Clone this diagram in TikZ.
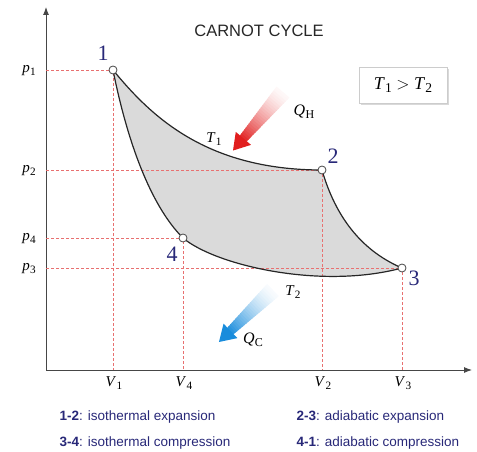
\documentclass[tikz,border=0pt]{standalone}
\usepackage{fontspec}
\setmainfont{Liberation Serif}
\setsansfont{Liberation Sans}
\usetikzlibrary{arrows.meta,shadows}
\definecolor{navy}{RGB}{40,40,120}
\definecolor{dashred}{RGB}{232,112,112}
\definecolor{hot}{RGB}{225,30,30}
\definecolor{cold}{RGB}{25,140,220}
\definecolor{areagray}{RGB}{218,218,218}
\definecolor{axisgray}{RGB}{70,70,70}
\newcommand\lbl[2]{\textit{#1}\kern0.3pt\raisebox{-0.35ex}{\scalebox{0.75}{#2}}}
\newcommand\heatarrow[4]{%
 \begin{scope}[shift={#1},rotate=#2]
  \pgfmathsetmacro\shaftlen{#3-16}
  \foreach \i in {0,...,23}{
    \pgfmathsetmacro\ua{\i*\shaftlen/24}
    \pgfmathsetmacro\ub{(\i+1.4)*\shaftlen/24}
    \pgfmathsetmacro\wa{8.5-4*\i/24}
    \pgfmathsetmacro\wb{8.5-4*(\i+1.4)/24}
    \pgfmathsetmacro\pc{3+90*(\i/23)^1.4}
    \fill[#4!\pc!white] (\ua,-\wa) -- (\ub,-\wb) -- (\ub,\wb) -- (\ua,\wa) -- cycle;
  }
  \fill[#4] (\shaftlen,-10) -- (#3,0) -- (\shaftlen,10) -- cycle;
 \end{scope}}
\begin{document}
\begin{tikzpicture}[x=1pt,y=-1pt,
  pt/.style={circle,draw=axisgray,fill=white,line width=0.8pt,inner sep=0pt,minimum size=8pt},
  guide/.style={dashred,dashed,dash pattern=on 3pt off 2pt,line width=0.8pt},
  curve/.style={black!85,line width=1.2pt},
  axis/.style={axisgray,line width=0.9pt,-{Latex[length=8pt,width=6pt]}},
  numlbl/.style={navy,font=\fontsize{22}{24}\selectfont},
  axlbl/.style={font=\fontsize{15}{18}\selectfont},
  qlbl/.style={font=\fontsize{16}{18}\selectfont},
  legend/.style={navy,anchor=west,font=\sffamily\fontsize{13.5}{16}\selectfont}]
\useasboundingbox (0,0) rectangle (477,452);
% cycle corners
\coordinate (c1) at (113,70);
\coordinate (c2) at (322,170);
\coordinate (c3) at (402,268);
\coordinate (c4) at (183,238);
% shaded area
\fill[areagray] (c1) .. controls (150,115) and (205,170) .. (c2)
  .. controls (335,215) and (360,250) .. (c3)
  .. controls (320,290) and (215,265) .. (c4)
  .. controls (150,205) and (127,140) .. (c1) -- cycle;
% axes
\coordinate (origin) at (46,370);
\coordinate (ytop) at (46,7);
\coordinate (xend) at (472,370);
\draw[axis] (origin) -- (ytop);
\draw[axis] (origin) -- (xend);
% guides
\coordinate (y1) at (46,70);  \coordinate (x1) at (113,370);
\coordinate (y2) at (46,170); \coordinate (x2) at (322,370);
\coordinate (y3) at (46,268); \coordinate (x3) at (402,370);
\coordinate (y4) at (46,238); \coordinate (x4) at (183,370);
\draw[guide] (y1) -- (c1) -- (x1);
\draw[guide] (y2) -- (c2) -- (x2);
\draw[guide] (y3) -- (c3) -- (x3);
\draw[guide] (y4) -- (c4) -- (x4);
% curves
\draw[curve] (c1) .. controls (150,115) and (205,170) .. (c2);
\draw[curve] (c2) .. controls (335,215) and (360,250) .. (c3);
\draw[curve] (c3) .. controls (320,290) and (215,265) .. (c4);
\draw[curve] (c4) .. controls (150,205) and (127,140) .. (c1);
% points
\node[pt] (n1) at (c1) {};
\node[pt] (n2) at (c2) {};
\node[pt] (n3) at (c3) {};
\node[pt] (n4) at (c4) {};
\node[numlbl] (l1) at (103,53) {1};
\node[numlbl] (l2) at (333,156) {2};
\node[numlbl] (l3) at (414,278) {3};
\node[numlbl] (l4) at (172,254) {4};
% axis labels
\node[axlbl] (p1) at (29,71) {\lbl{p}{1}};
\node[axlbl] (p2) at (29,171) {\lbl{p}{2}};
\node[axlbl] (p4) at (29,239) {\lbl{p}{4}};
\node[axlbl] (p3) at (29,269) {\lbl{p}{3}};
\node[axlbl] (v1) at (114,383) {\lbl{V}{1}};
\node[axlbl] (v4) at (184,383) {\lbl{V}{4}};
\node[axlbl] (v2) at (323,383) {\lbl{V}{2}};
\node[axlbl] (v3) at (403,383) {\lbl{V}{3}};
% heat arrows
\heatarrow{(283,92)}{229.5}{77}{hot}
\heatarrow{(273,290)}{223.9}{75}{cold}
% temperatures and heat
\node[axlbl] (t1) at (214,139) {\lbl{T}{1}};
\node[axlbl] (t2) at (293,292) {\lbl{T}{2}};
\node[qlbl] (qh) at (304,112) {\lbl{Q}{H}};
\node[qlbl] (qc) at (253,340) {\lbl{Q}{C}};
% title and box
\node[font=\sffamily\fontsize{16.5}{20}\selectfont,text=black!85] (title) at (259,31) {CARNOT CYCLE};
\node[draw=gray!40,fill=white,minimum width=88pt,minimum height=36pt,
  drop shadow={shadow xshift=2pt,shadow yshift=-2pt,fill=gray!50,opacity=0.6},
  font=\fontsize{18}{20}\selectfont] (cond) at (403,85) {\lbl{T}{1} $>$ \lbl{T}{2}};
% legend
\node[legend] (lg1) at (56,417) {\textbf{1-2}: isothermal expansion};
\node[legend] (lg2) at (56,443) {\textbf{3-4}: isothermal compression};
\node[legend] (lg3) at (293,417) {\textbf{2-3}: adiabatic expansion};
\node[legend] (lg4) at (293,443) {\textbf{4-1}: adiabatic compression};
\end{tikzpicture}
\end{document}
